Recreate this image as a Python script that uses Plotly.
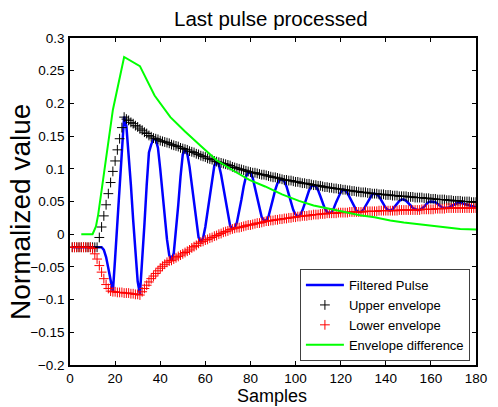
import plotly.graph_objects as go

# ---- data ----
samples = list(range(1, 181))

filtered_pulse = [
    -0.020, -0.020, -0.020, -0.020, -0.020, -0.020, -0.020, -0.020, -0.020, -0.020, -0.020, -0.020, -0.020, -0.020,
    -0.024, -0.035, -0.052, -0.072, -0.088,
    -0.037, 0.015, 0.068, 0.125, 0.180,
    0.165, 0.125, 0.075, 0.022, -0.030, -0.072, -0.092,
    -0.045, 0.015, 0.075, 0.125, 0.137, 0.145, 0.145,
    0.132, 0.100, 0.063, 0.025, -0.008, -0.032, -0.040,
    -0.029, 0.003, 0.045, 0.088, 0.122, 0.130,
    0.123, 0.103, 0.075, 0.043, 0.015, -0.005, -0.012,
    -0.006, 0.011, 0.036, 0.063, 0.088, 0.105, 0.111,
    0.106, 0.091, 0.071, 0.047, 0.027, 0.013, 0.008, 0.010,
    0.018, 0.034, 0.053, 0.073, 0.088, 0.095, 0.094,
    0.086, 0.071, 0.053, 0.037, 0.026, 0.021, 0.021,
    0.027, 0.039, 0.054, 0.068, 0.078, 0.083, 0.084,
    0.081, 0.073, 0.061, 0.048, 0.037, 0.030, 0.027,
    0.029, 0.036, 0.046, 0.057, 0.067, 0.073, 0.075,
    0.073, 0.067, 0.058, 0.048, 0.039, 0.034, 0.032,
    0.034, 0.040, 0.049, 0.058, 0.064, 0.068, 0.067,
    0.063, 0.056, 0.048, 0.041, 0.036, 0.034, 0.034,
    0.037, 0.043, 0.051, 0.057, 0.061, 0.062,
    0.061, 0.058, 0.052, 0.046, 0.040, 0.037, 0.036,
    0.038, 0.042, 0.047, 0.051, 0.053, 0.053,
    0.051, 0.048, 0.044, 0.040, 0.038, 0.037, 0.037,
    0.039, 0.042, 0.046, 0.049, 0.050, 0.050,
    0.049, 0.046, 0.043, 0.041, 0.040, 0.040,
    0.041, 0.043, 0.045, 0.047, 0.048, 0.048,
    0.047, 0.046, 0.044, 0.043, 0.042, 0.041, 0.041,
]

upper_envelope = [
    -0.020, -0.020, -0.020, -0.020, -0.020, -0.020, -0.020, -0.020, -0.020, -0.020, -0.020, -0.020,
    -0.005, 0.011, 0.028, 0.045, 0.062, 0.079, 0.096, 0.112, 0.129, 0.146, 0.163, 0.179,
    0.176, 0.174, 0.171, 0.169, 0.166, 0.164, 0.161, 0.159, 0.156, 0.154, 0.151, 0.149, 0.147, 0.146,
    0.145, 0.143, 0.142, 0.141, 0.140, 0.139, 0.137, 0.136, 0.135, 0.134, 0.132, 0.131, 0.130,
    0.129, 0.127, 0.126, 0.125, 0.123, 0.122, 0.120, 0.119, 0.118, 0.116, 0.115, 0.114, 0.112, 0.111,
    0.110, 0.109, 0.108, 0.107, 0.106, 0.105, 0.103, 0.102, 0.101, 0.100, 0.099, 0.098, 0.097, 0.096,
    0.095, 0.094, 0.094, 0.093, 0.092, 0.091, 0.091, 0.090, 0.089, 0.088, 0.087, 0.087, 0.086, 0.085, 0.084,
    0.083, 0.083, 0.082, 0.082, 0.081, 0.080, 0.080, 0.079, 0.078, 0.078, 0.077, 0.077, 0.076, 0.075,
    0.075, 0.074, 0.074, 0.073, 0.072, 0.072, 0.071, 0.071, 0.070, 0.070, 0.069, 0.069, 0.068,
    0.068, 0.067, 0.067, 0.066, 0.066, 0.065, 0.065, 0.064, 0.064, 0.064, 0.063, 0.063, 0.062, 0.062,
    0.062, 0.061, 0.061, 0.061, 0.060, 0.060, 0.060, 0.059, 0.059, 0.059,
    0.058, 0.058, 0.058, 0.058, 0.057, 0.057, 0.057, 0.056, 0.056, 0.056,
    0.056, 0.055, 0.055, 0.055, 0.054, 0.054, 0.054, 0.053, 0.053, 0.053,
    0.053, 0.052, 0.052, 0.052, 0.051, 0.051, 0.051, 0.051, 0.050, 0.050,
    0.050, 0.050, 0.049, 0.049, 0.049,
]

lower_envelope = [
    -0.020, -0.020, -0.020, -0.020, -0.020, -0.020, -0.020, -0.020, -0.020,
    -0.022, -0.030, -0.038, -0.048, -0.058, -0.068, -0.077, -0.083, -0.087, -0.088,
    -0.088, -0.089, -0.089, -0.089, -0.090, -0.090, -0.090, -0.091, -0.091, -0.092, -0.092, -0.093,
    -0.088, -0.083, -0.078, -0.073, -0.068, -0.064, -0.060, -0.056, -0.052, -0.049, -0.046, -0.043, -0.041, -0.040,
    -0.038, -0.036, -0.034, -0.032, -0.030, -0.028, -0.026, -0.024, -0.021, -0.019, -0.017, -0.014, -0.012,
    -0.011, -0.009, -0.008, -0.006, -0.005, -0.003, -0.002, 0.000, 0.001, 0.003, 0.004, 0.005, 0.007, 0.008,
    0.009, 0.010, 0.010, 0.011, 0.012, 0.013, 0.014, 0.014, 0.015, 0.016, 0.017, 0.017, 0.018, 0.019,
    0.020, 0.020, 0.021, 0.021, 0.022, 0.022, 0.023, 0.023, 0.024, 0.024, 0.025, 0.025, 0.026, 0.026, 0.027,
    0.027, 0.028, 0.028, 0.028, 0.029, 0.029, 0.030, 0.030, 0.030, 0.031, 0.031, 0.031, 0.032, 0.032,
    0.032, 0.032, 0.032, 0.033, 0.033, 0.033, 0.033, 0.033, 0.034, 0.034, 0.034, 0.034, 0.034,
    0.034, 0.034, 0.035, 0.035, 0.035, 0.035, 0.035, 0.035, 0.036, 0.036, 0.036, 0.036, 0.036, 0.036,
    0.036, 0.036, 0.036, 0.037, 0.037, 0.037, 0.037, 0.037, 0.037, 0.037, 0.037, 0.037, 0.037,
    0.038, 0.038, 0.038, 0.038, 0.038, 0.038, 0.039, 0.039, 0.039, 0.039, 0.039, 0.040,
    0.040, 0.040, 0.040, 0.040, 0.040, 0.040, 0.040, 0.040, 0.040, 0.040, 0.040, 0.040, 0.040,
]

diff_samples = [5, 10, 11.5, 12.5, 19, 24, 31, 37.5, 44.5, 51, 58, 65, 72.5, 79.5, 86.5,
                94, 101.5, 108, 115, 121.5, 128.5, 135, 142, 148, 155, 161, 167, 173, 180]
envelope_difference = [0.0, 0.0, 0.012, 0.030, 0.190, 0.271, 0.257, 0.212, 0.179, 0.157, 0.135,
                       0.113, 0.097, 0.083, 0.073, 0.061, 0.051, 0.044, 0.039, 0.034, 0.029,
                       0.026, 0.021, 0.018, 0.015, 0.012, 0.010, 0.008, 0.007]

x_ticks = [0, 20, 40, 60, 80, 100, 120, 140, 160, 180]
y_ticks = [0.3, 0.25, 0.2, 0.15, 0.1, 0.05, 0, -0.05, -0.1, -0.15, -0.2]
y_tick_labels = ["0.3", "0.25", "0.2", "0.15", "0.1", "0.05", "0",
                 "\u22120.05", "\u22120.1", "\u22120.15", "\u22120.2"]

FONT = "Liberation Sans, Arial, sans-serif"

fig = go.Figure()
fig.add_trace(go.Scatter(x=samples, y=filtered_pulse, mode="lines", name="Filtered Pulse",
                         line=dict(color="#0000ff", width=2.5)))
fig.add_trace(go.Scatter(x=samples, y=upper_envelope, mode="markers", name="Upper envelope",
                         marker=dict(symbol="cross-thin", size=7, color="black",
                                     line=dict(color="black", width=1))))
fig.add_trace(go.Scatter(x=samples, y=lower_envelope, mode="markers", name="Lower envelope",
                         marker=dict(symbol="cross-thin", size=7, color="#ff0000",
                                     line=dict(color="#ff0000", width=1))))
fig.add_trace(go.Scatter(x=diff_samples, y=envelope_difference, mode="lines",
                         name="Envelope difference", line=dict(color="#00ff00", width=2)))

axis_common = dict(showgrid=False, zeroline=False, showline=True, linecolor="black",
                   linewidth=1.5, mirror="ticks", ticks="inside", ticklen=4,
                   tickcolor="black", tickwidth=1,
                   tickfont=dict(family=FONT, size=13.5, color="black"))

fig.update_xaxes(range=[0, 180], tickvals=x_ticks, ticklabelstandoff=0, **axis_common)
fig.update_yaxes(range=[-0.2, 0.3], tickvals=y_ticks, ticktext=y_tick_labels,
                 ticklabelstandoff=1, **axis_common)

fig.update_layout(
    width=498, height=407,
    margin=dict(l=70, r=11, t=38, b=42),
    paper_bgcolor="white", plot_bgcolor="white",
    font=dict(family=FONT, color="black"),
    showlegend=True,
    legend=dict(x=0.985, y=0.012, xanchor="right", yanchor="bottom",
                bgcolor="white", bordercolor="#404040", borderwidth=1,
                font=dict(family=FONT, size=13, color="black"),
                tracegroupgap=0, itemwidth=38),
    annotations=[
        dict(text="Last pulse processed", xref="paper", yref="paper", x=0.496, y=1.0,
             yshift=20, xanchor="center", yanchor="middle", showarrow=False,
             font=dict(family=FONT, size=20.5, color="black")),
        dict(text="Samples", xref="paper", yref="paper", x=0.497, y=0.0,
             yshift=-31, xanchor="center", yanchor="middle", showarrow=False,
             font=dict(family=FONT, size=18, color="black")),
        dict(text="Normalized value", xref="paper", yref="paper", x=0.0, y=0.468,
             xshift=-49, xanchor="center", yanchor="middle", showarrow=False, textangle=-90,
             font=dict(family=FONT, size=28, color="black")),
    ],
)

fig.write_html("out.html",
               config={"displayModeBar": False},
               post_script="document.body.style.margin='0px';"
                           "document.documentElement.style.overflow='hidden';")
